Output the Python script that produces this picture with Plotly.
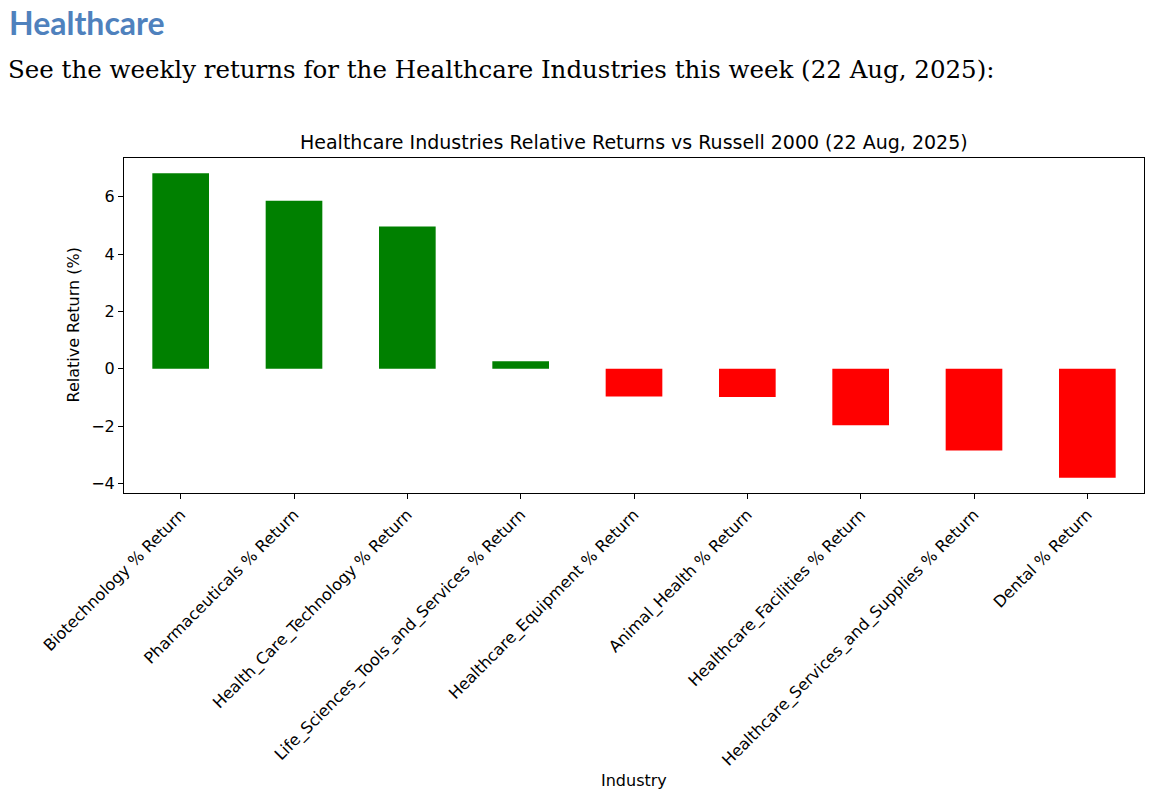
import plotly.graph_objects as go

categories = [
    "Biotechnology % Return",
    "Pharmaceuticals % Return",
    "Health_Care_Technology % Return",
    "Life_Sciences_Tools_and_Services % Return",
    "Healthcare_Equipment % Return",
    "Animal_Health % Return",
    "Healthcare_Facilities % Return",
    "Healthcare_Services_and_Supplies % Return",
    "Dental % Return",
]
values = [6.82, 5.86, 4.96, 0.26, -0.97, -0.98, -1.97, -2.85, -3.80]
colors = ["#008000" if v >= 0 else "#FF0000" for v in values]

W, H = 1156, 804
L, R, T, B = 124, 1144, 158, 493

def px_x(p):
    return (p - L) / (R - L)

def px_y(p):
    return (B - p) / (B - T)

fig = go.Figure(go.Bar(
    x=list(range(len(categories))), y=values, width=0.5,
    marker=dict(color=colors, line=dict(width=0)),
))

vmin, vmax = min(values), max(values)
pad = (vmax - vmin) * 0.05

fig.update_layout(
    width=W, height=H,
    margin=dict(l=L, r=W - R, t=T, b=H - B),
    paper_bgcolor="white", plot_bgcolor="white",
    showlegend=False,
    font=dict(family="DejaVu Sans", color="black", size=16),
    xaxis=dict(
        range=[-0.5, len(categories) - 0.5],
        tickmode="array", tickvals=list(range(len(categories))), ticktext=categories,
        tickangle=-45, ticks="outside", ticklen=5, tickcolor="black",
        showline=True, linecolor="black", linewidth=1, mirror=True,
        showgrid=False, zeroline=False, tickfont=dict(size=16),
    ),
    yaxis=dict(
        range=[vmin - pad, vmax + pad], dtick=2, tick0=0,
        ticks="outside", ticklen=5, tickcolor="black",
        showline=True, linecolor="black", linewidth=1, mirror=True,
        showgrid=False, zeroline=False, tickfont=dict(size=16),
    ),
    annotations=[
        dict(text="<b>Healthcare</b>", x=px_x(7), y=px_y(22), xref="paper", yref="paper",
             xanchor="left", yanchor="middle", showarrow=False,
             font=dict(family="Lato", size=32, color="#4F81BD")),
        dict(text="See the weekly returns for the Healthcare Industries this week (22 Aug, 2025):",
             x=px_x(6), y=px_y(70), xref="paper", yref="paper",
             xanchor="left", yanchor="middle", showarrow=False,
             font=dict(family="DejaVu Serif", size=24.5, color="black")),
        dict(text="Healthcare Industries Relative Returns vs Russell 2000 (22 Aug, 2025)",
             x=0.5, y=px_y(142), xref="paper", yref="paper",
             xanchor="center", yanchor="middle", showarrow=False,
             font=dict(family="DejaVu Sans", size=19, color="black")),
        dict(text="Industry", x=0.5, y=px_y(780), xref="paper", yref="paper",
             xanchor="center", yanchor="middle", showarrow=False,
             font=dict(family="DejaVu Sans", size=16, color="black")),
        dict(text="Relative Return (%)", x=px_x(73), y=0.5, xref="paper", yref="paper",
             xanchor="center", yanchor="middle", showarrow=False, textangle=-90,
             font=dict(family="DejaVu Sans", size=16, color="black")),
    ],
)

fig.write_html(
    "out.html",
    config={"displayModeBar": False},
    post_script="document.body.style.margin='0px';document.body.style.overflow='hidden';",
)
